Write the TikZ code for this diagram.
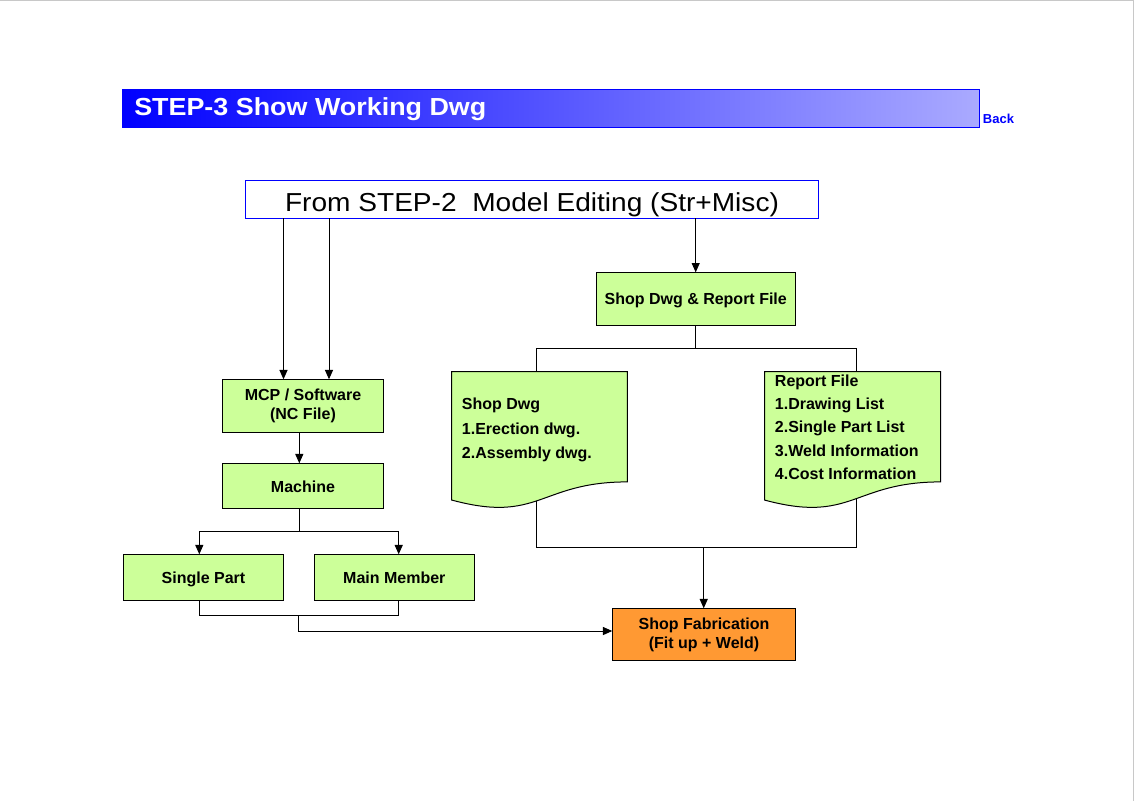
\documentclass[tikz,border=0pt]{standalone}
\usepackage{fontspec}
\setmainfont{Liberation Sans}
\newfontfamily\hdrfont[FakeStretch=1.09]{Liberation Sans}
\newfontfamily\gulimfont[FakeStretch=1.08]{Liberation Sans}
\usetikzlibrary{arrows.meta,calc}
\definecolor{boxgreen}{RGB}{204,255,153}
\definecolor{fabor}{RGB}{255,153,51}
\definecolor{hdrlight}{RGB}{170,170,255}
\definecolor{pageedge}{RGB}{200,200,200}
\begin{document}
\begin{tikzpicture}[x=0.75pt,y=-0.75pt,
  conn/.style={draw=black,line width=0.75pt},
  arr/.style={conn,-{Triangle[length=7pt,width=6pt]}},
  gbox/.style={draw=black,line width=0.75pt,fill=boxgreen,inner sep=0pt,outer sep=0pt,align=center,font=\bfseries\fontsize{12}{14.25}\selectfont},
  one/.style={text height=9.3pt,text depth=0pt},
  sz/.style 2 args={minimum width=#1*0.75pt,minimum height=#2*0.75pt},
  docbox/.style={inner sep=0pt,outer sep=0pt},
  docline/.style={draw=black,line width=0.75pt,fill=boxgreen},
  doctext/.style={inner sep=0pt,align=left,anchor=north west}]
\useasboundingbox (0,0) rectangle (1134,801);
\draw[pageedge,line width=0.75pt] (0,0.5) -- (1133.5,0.5) -- (1133.5,801);

% header
\node[draw=blue,line width=0.75pt,left color=blue,right color=hdrlight,inner sep=0pt,outer sep=0pt,sz={856.3}{37.3}] (hdr) at (550.85,108.35) {};
\node[anchor=base west,inner sep=0pt,text=white,font=\hdrfont\bfseries\fontsize{18.5}{22}\selectfont] (title) at (134,115) {STEP-3 Show Working Dwg};
\node[anchor=base west,inner sep=0pt,text=blue,font=\bfseries\fontsize{9.75}{12}\selectfont] (back) at (982.7,123.7) {Back};

% source box
\node[draw=blue,line width=0.75pt,fill=white,inner sep=0pt,outer sep=0pt,sz={573.4}{38},font=\gulimfont\fontsize{19.5}{23}\selectfont,text height=18.45pt,text depth=0pt] (src) at (532,199) {From STEP-2\ \ Model Editing (Str+Misc)};

% boxes
\node[gbox,sz={161.4}{53}] (mcp) at (303,405.8) {MCP / Software\\(NC File)};
\node[gbox,one,sz={161.4}{45}] (mach) at (303,485.8) {Machine};
\node[gbox,one,sz={160.4}{46}] (single) at (203.5,577.3) {Single Part};
\node[gbox,one,sz={160}{46}] (mainm) at (394.3,577.3) {Main Member};
\node[gbox,one,sz={199.3}{52.7}] (sdr) at (695.7,298.7) {Shop Dwg \& Report File};
\node[gbox,fill=fabor,sz={183.4}{52.4}] (fab) at (704,634.5) {Shop Fabrication\\(Fit up + Weld)};

% document frames
\node[docbox,sz={175.6}{137.4},anchor=north west] (docL) at (451.7,371.7) {};
\node[docbox,sz={176.2}{137.4},anchor=north west] (docR) at (764.5,371.7) {};

% helper coordinates
\coordinate (xa) at (283.5,0);
\coordinate (xb) at (329,0);
\coordinate (xm) at (299.3,0);
\coordinate (xs) at (199.3,0);
\coordinate (xmm) at (398.7,0);
\coordinate (xdl) at (536,0);
\coordinate (xdr) at (856.3,0);
\coordinate (jm) at (299.3,531.7);
\coordinate (jp) at (298.7,615.3);
\coordinate (jf) at (298.7,631);
\coordinate (jt) at (696.3,348);
\coordinate (jb) at (703.7,547);

% connectors
\draw[arr] (src.south -| xa) -- (mcp.north -| xa);
\draw[arr] (src.south -| xb) -- (mcp.north -| xb);
\draw[arr] (src.south -| sdr.north) -- (sdr.north);
\draw[arr] (mcp.south -| xm) -- (mach.north -| xm);
\draw[conn] (mach.south -| jm) -- (jm);
\draw[arr] (jm) -| (single.north -| xs);
\draw[arr] (jm) -| (mainm.north -| xmm);
\draw[conn] (single.south -| xs) |- (jp) -| (mainm.south -| xmm);
\draw[arr] (jp) -- (jf) -- (fab.west |- jf);
\draw[conn] (sdr.south) -- (sdr.south |- jt);
\draw[conn] (docL.north -| xdl) -- (xdl |- jt) -- (xdr |- jt) -- (docR.north -| xdr);
\draw[conn] (docL.center -| xdl) -- (xdl |- jb) -- (xdr |- jb) -- (docR.center -| xdr);
\draw[arr] (jb) -- (fab.north -| jb);

% document shapes
\foreach \d in {docL,docR}{
  \draw[docline] (\d.north west) -- (\d.north east)
    -- ($(\d.north east)!0.802!(\d.south east)$)
    .. controls ($(\d.north)!0.802!(\d.south)$) and ($(\d.north)!1.1075!(\d.south)$)
    .. ($(\d.north west)!0.934!(\d.south west)$) -- cycle;
}
\node[doctext,font=\bfseries\fontsize{12}{18.5}\selectfont] (docLt) at (461.7,397.6) {Shop Dwg\\1.Erection dwg.\\2.Assembly dwg.};
\node[doctext,font=\bfseries\fontsize{12}{17.5}\selectfont] (docRt) at (774.7,374.4) {Report File\\1.Drawing List\\2.Single Part List\\3.Weld Information\\4.Cost Information};
\end{tikzpicture}
\end{document}
